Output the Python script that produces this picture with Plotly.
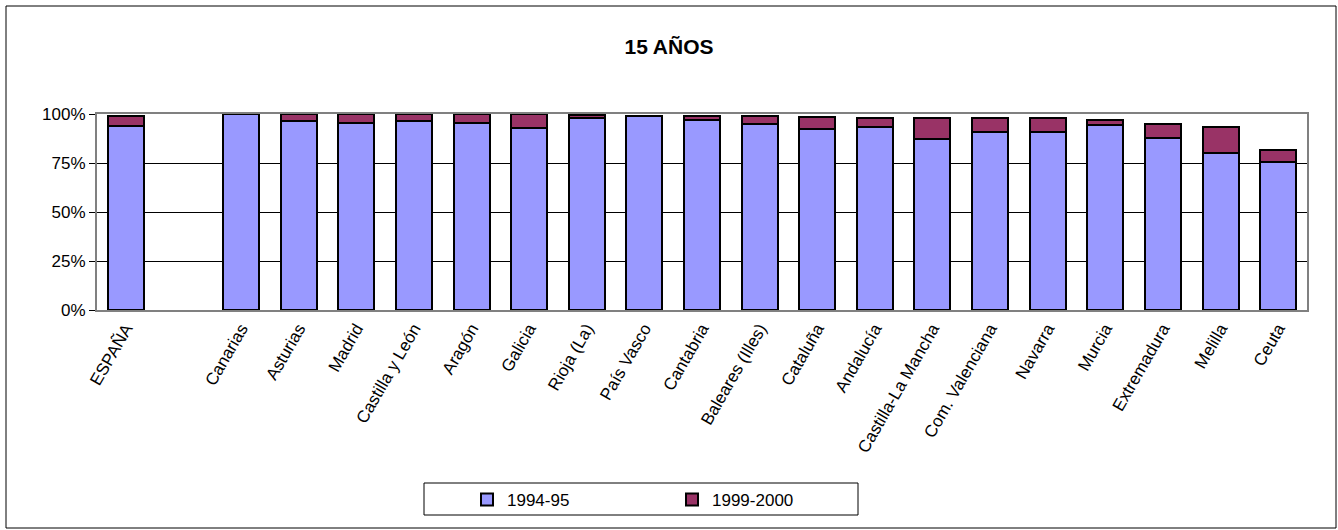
import plotly.graph_objects as go

categories = ["ESPAÑA", " ", "Canarias", "Asturias", "Madrid", "Castilla y León", "Aragón",
              "Galicia", "Rioja (La)", "País Vasco", "Cantabria", "Baleares (Illes)",
              "Cataluña", "Andalucía", "Castilla-La Mancha", "Com. Valenciana", "Navarra",
              "Murcia", "Extremadura", "Melilla", "Ceuta"]
v1994 = [93.9, None, 99.9, 96.4, 95.6, 96.6, 95.6, 92.7, 97.8, 99.0, 96.9, 94.9,
         92.2, 93.5, 87.2, 90.6, 90.6, 94.4, 87.6, 79.9, 75.7]
v1999 = [5.2, None, 0.1, 3.6, 4.4, 3.4, 4.4, 7.3, 1.7, 0.2, 2.1, 4.1,
         6.4, 4.6, 10.9, 7.5, 7.5, 2.5, 7.3, 13.6, 5.8]
series_names = ["1994-95", "1999-2000"]
y_ticks = [0, 25, 50, 75, 100]
y_labels = ["0%", "25%", "50%", "75%", "100%"]

FONT = "Arial, Liberation Sans, sans-serif"

fig = go.Figure()
fig.add_trace(go.Bar(x=categories, y=v1994, name=series_names[0],
                     marker=dict(color="#9999FF", line=dict(color="black", width=2))))
fig.add_trace(go.Bar(x=categories, y=v1999, name=series_names[1],
                     marker=dict(color="#993366", line=dict(color="black", width=2))))

L, R, T, B = 97, 31, 114, 220
W, H = 1338, 530
pw, ph = W - L - R, H - T - B

def px_x(x):
    return (x - L) / pw

def px_y(y):
    return (H - B - y) / ph

fig.update_layout(
    barmode="stack",
    bargap=0.375,
    width=W, height=H,
    margin=dict(l=L, r=R, t=T, b=B, autoexpand=False),
    paper_bgcolor="white", plot_bgcolor="white",
    font=dict(family=FONT, size=17, color="black"),
    title=dict(text="<b>15 AÑOS</b>", x=0.5, xanchor="center", y=1 - 47 / H, yanchor="middle",
               font=dict(family=FONT, size=21, color="black")),
    showlegend=True,
    legend=dict(orientation="h", x=px_x(467), xanchor="left", y=px_y(482), yanchor="top",
                borderwidth=0, bgcolor="rgba(0,0,0,0)",
                entrywidth=160, entrywidthmode="pixels",
                font=dict(family=FONT, size=17, color="black"), traceorder="normal"),
    xaxis=dict(type="category", tickangle=-60, showline=True, linecolor="#808080", linewidth=2,
               mirror=True, ticks="", showgrid=False, tickfont=dict(size=17),
               range=[-0.5, len(categories) - 0.5]),
    yaxis=dict(range=[0, 100], tickvals=y_ticks, ticktext=y_labels, showgrid=True,
               gridcolor="black", gridwidth=1, showline=True, linecolor="#808080", linewidth=2,
               mirror=True, ticks="outside", ticklen=6, tickcolor="black", tickfont=dict(size=17),
               zeroline=False),
)

# outer chart frame
fig.add_shape(type="rect", xref="paper", yref="paper",
              x0=px_x(6), x1=px_x(1336), y0=px_y(528), y1=px_y(6),
              line=dict(color="black", width=1), fillcolor="rgba(0,0,0,0)", layer="below")
# legend frame
fig.add_shape(type="rect", xref="paper", yref="paper",
              x0=px_x(424), x1=px_x(858), y0=px_y(515), y1=px_y(483),
              line=dict(color="black", width=1), fillcolor="rgba(0,0,0,0)", layer="below")

fig.write_html("out.html", config={"displayModeBar": False},
               post_script="document.body.style.margin='0';document.body.style.overflow='hidden';")
